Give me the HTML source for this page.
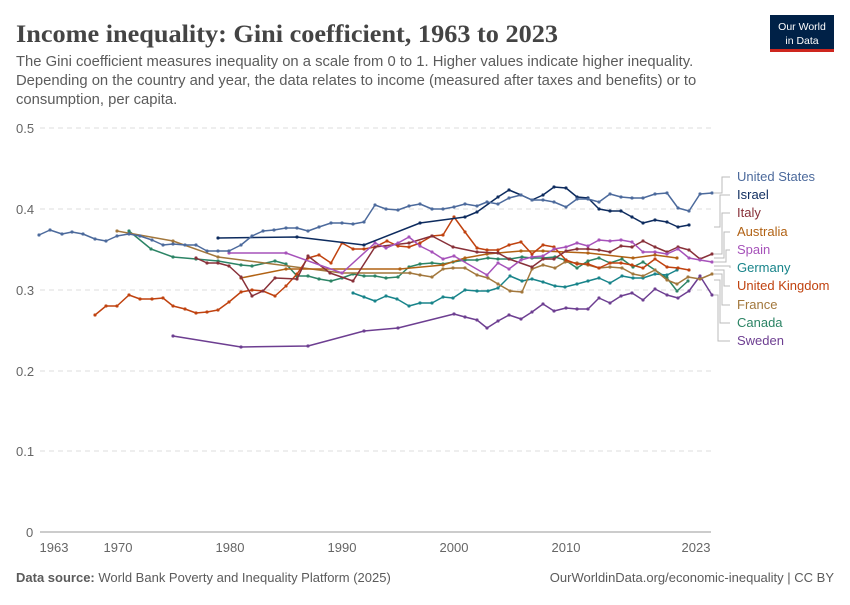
<!DOCTYPE html>
<html><head><meta charset="utf-8"><style>
body{margin:0;background:#fff;width:850px;height:600px;overflow:hidden;font-family:"Liberation Sans",sans-serif}
</style></head><body>
<svg width="850" height="600" viewBox="0 0 850 600" xmlns="http://www.w3.org/2000/svg" font-family="Liberation Sans, sans-serif">
<defs>
<marker id="d" viewBox="0 0 4 4" refX="2" refY="2" markerWidth="2.2" markerHeight="2.2" markerUnits="strokeWidth"><circle cx="2" cy="2" r="2" fill="context-stroke"/></marker>
</defs>
<text x="16" y="42" font-family="Liberation Serif, serif" font-size="25" font-weight="bold" fill="#444" textLength="542" lengthAdjust="spacingAndGlyphs">Income inequality: Gini coefficient, 1963 to 2023</text>
<text font-size="14.8" fill="#5b5b5b"><tspan x="16" y="66">The Gini coefficient measures inequality on a scale from 0 to 1. Higher values indicate higher inequality.</tspan><tspan x="16" y="85">Depending on the country and year, the data relates to income (measured after taxes and benefits) or to</tspan><tspan x="16" y="104">consumption, per capita.</tspan></text>
<rect x="770" y="15" width="64" height="36" fill="#002147"/><rect x="770" y="49" width="64" height="3" fill="#ce261e"/>
<text x="802" y="30" font-size="10.5" fill="#fff" text-anchor="middle">Our World</text><text x="802" y="44" font-size="10.5" fill="#fff" text-anchor="middle">in Data</text>
<g stroke="#ddd" stroke-dasharray="5,4"><line x1="40" x2="711" y1="128" y2="128"/><line x1="40" x2="711" y1="209" y2="209"/><line x1="40" x2="711" y1="290" y2="290"/><line x1="40" x2="711" y1="371" y2="371"/><line x1="40" x2="711" y1="451" y2="451"/></g>
<line x1="40" x2="711" y1="532" y2="532" stroke="#999"/>
<g font-size="13" fill="#666"><text x="16" y="133">0.5</text><text x="16" y="214">0.4</text><text x="16" y="295">0.3</text><text x="16" y="376">0.2</text><text x="16" y="456">0.1</text><text x="26" y="537">0</text></g>
<g font-size="13" fill="#666" text-anchor="middle"><text x="54" y="552">1963</text><text x="118" y="552">1970</text><text x="230" y="552">1980</text><text x="342" y="552">1990</text><text x="454" y="552">2000</text><text x="566" y="552">2010</text><text x="696" y="552">2023</text></g>
<g fill="none" stroke-width="1.5" stroke-linejoin="round" marker-start="url(#d)" marker-mid="url(#d)" marker-end="url(#d)">
<polyline stroke="#6d3e91" points="173,336 241,347 308,346 364,331 398,328 454,314 465,317 477,320 487,328 498,321 509,315 521,319 532,312 543,304 554,311 566,308 577,309 588,309 599,298 610,303 621,296 632,293 643,300 655,289 667,295 678,298 689,291 700,276 712,295"/>
<polyline stroke="#2c8465" points="129,231 151,249 173,257 196,259 218,261 241,265 252,266 275,261 286,264 297,276 308,276 319,279 331,281 342,278 353,274 364,276 375,276 386,278 398,277 409,267 420,264 432,263 443,264 453,262 465,260 477,260 488,258 498,259 510,259 522,257 532,258 543,258 555,257 565,260 577,268 588,261 599,258 610,263 622,259 633,267 643,262 655,270 667,278 677,291 688,281"/>
<polyline stroke="#18848a" points="353,293 364,297 375,301 386,296 397,299 409,306 420,303 432,303 443,297 453,298 465,290 477,291 488,291 498,288 510,276 522,281 532,279 543,282 555,286 565,287 577,284 588,281 599,278 610,283 622,276 633,278 643,278 655,274 667,275 677,270"/>
<polyline stroke="#a2773c" points="117,231 173,241 218,257 342,273 410,273 420,275 432,277 443,269 453,268 465,268 477,275 488,278 498,284 510,291 522,292 532,269 543,265 555,268 565,262 577,263 588,265 599,268 610,267 622,268 633,274 643,276 655,270 667,280 677,284 688,277 700,279 712,274"/>
<polyline stroke="#b16214" points="241,278 286,269 400,269 443,265 465,258 487,254 521,251 543,251 588,253 633,258 655,255 677,258"/>
<polyline stroke="#c0420f" points="95,315 106,306 117,306 129,295 140,299 152,299 163,298 173,306 185,309 196,313 207,312 218,310 229,302 241,292 252,290 263,291 275,296 286,286 297,274 308,258 319,255 331,263 342,243 353,249 364,249 375,247 387,241 398,246 409,247 420,243 432,236 443,235 454,217 465,232 477,248 487,250 498,250 509,245 521,242 532,254 543,245 554,247 566,260 577,264 588,264 599,268 610,263 621,263 632,265 643,268 655,259 667,267 678,268 689,270"/>
<polyline stroke="#883039" points="196,258 207,263 218,263 229,266 241,277 252,296 263,291 275,278 297,279 308,256 330,273 353,281 375,247 409,243 432,236 453,247 477,252 498,253 509,259 532,267 543,259 554,259 566,251 577,249 588,249 599,250 610,252 621,246 632,247 643,241 655,247 667,252 678,247 689,250 700,259 712,254"/>
<polyline stroke="#a652ba" points="229,253 286,253 342,273 375,243 386,248 398,243 409,237 420,246 432,252 443,259 454,256 487,275 498,263 509,269 521,260 532,257 543,256 554,249 566,247 577,243 588,246 599,240 610,241 621,240 632,242 643,252 655,252 667,254 678,249 689,258 700,260 712,262"/>
<polyline stroke="#0d2b5e" points="218,238 297,237 364,245 420,223 465,217 477,212 498,197 509,190 521,195 532,200 543,195 554,187 566,188 577,197 588,198 599,209 610,211 621,211 632,217 643,223 655,220 667,222 678,227 689,225"/>
<polyline stroke="#4c6a9c" points="39,235 50,230 62,234 72,232 83,234 95,239 106,241 117,236 129,234 140,236 152,240 163,245 173,244 185,245 196,245 207,251 218,251 229,251 241,245 252,236 263,231 274,230 286,228 297,228 308,231 319,227 331,223 342,223 353,224 364,222 375,205 386,209 398,210 409,206 420,204 432,209 443,209 454,207 465,204 477,206 487,202 498,204 509,198 521,195 532,200 543,200 554,202 566,207 577,199 588,199 599,202 610,194 621,197 632,198 643,198 655,194 667,193 678,208 689,211 700,194 712,193"/>
</g>
<g stroke="#bbb" fill="none"><path d="M714,193 H722 V177 H730"/><path d="M714,227 H720 V195 H730"/><path d="M714,254 H722 V213 H730"/><path d="M714,258 H724 V232 H730"/><path d="M714,262 H726 V250 H730"/><path d="M714,266 H730 V268"/><path d="M714,270 H724 V286 H730"/><path d="M714,274 H722 V305 H730"/><path d="M714,280 H720 V323 H730"/><path d="M714,295 H718 V341 H730"/></g>
<g font-size="13"><text x="737" y="181" fill="#4c6a9c">United States</text><text x="737" y="199" fill="#0d2b5e">Israel</text><text x="737" y="217" fill="#883039">Italy</text><text x="737" y="236" fill="#b16214">Australia</text><text x="737" y="254" fill="#a652ba">Spain</text><text x="737" y="272" fill="#18848a">Germany</text><text x="737" y="290" fill="#c0420f">United Kingdom</text><text x="737" y="309" fill="#a2773c">France</text><text x="737" y="327" fill="#2c8465">Canada</text><text x="737" y="345" fill="#6d3e91">Sweden</text></g>
<text x="16" y="582" font-size="13" fill="#5b5b5b"><tspan font-weight="bold">Data source:</tspan> World Bank Poverty and Inequality Platform (2025)</text>
<text x="834" y="582" font-size="13" fill="#5b5b5b" text-anchor="end">OurWorldinData.org/economic-inequality | CC BY</text>
</svg>
</body></html>
